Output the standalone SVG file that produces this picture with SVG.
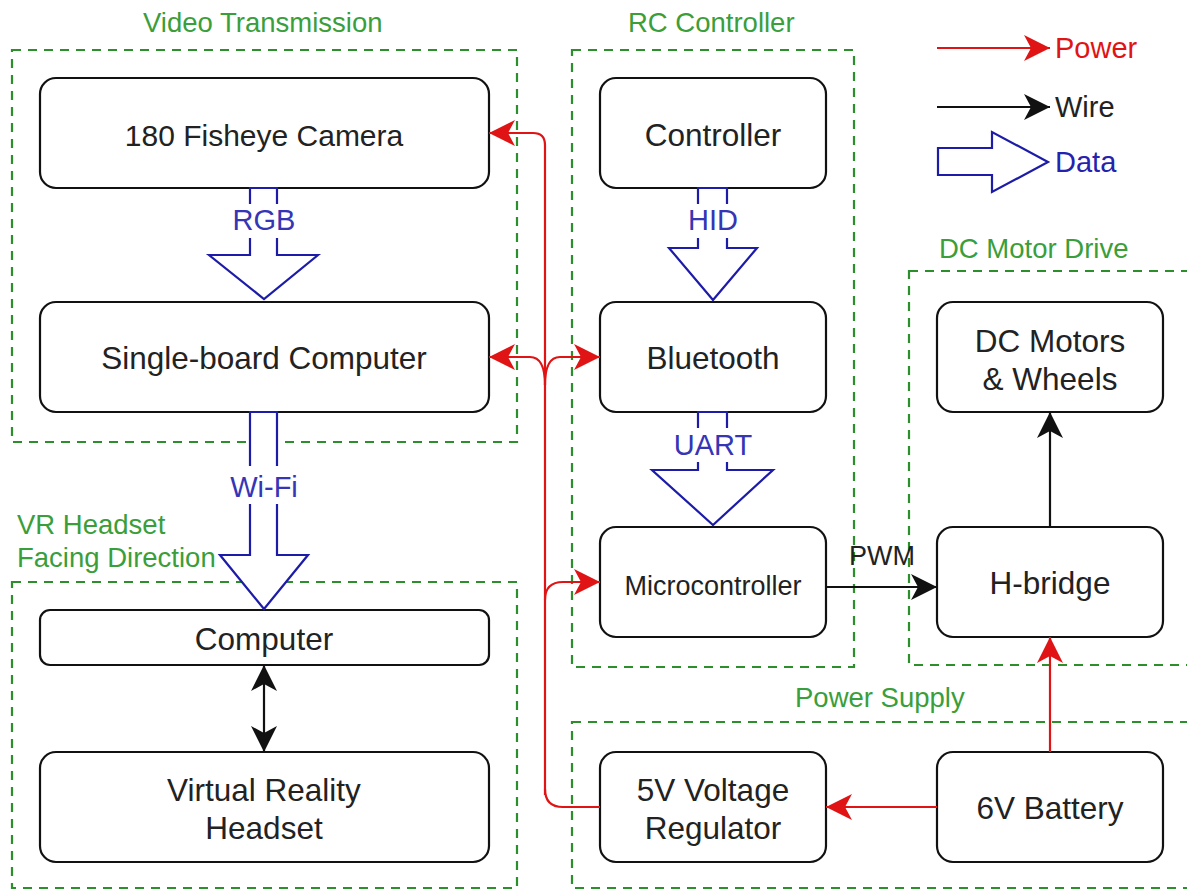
<svg xmlns="http://www.w3.org/2000/svg" width="1187" height="894" viewBox="0 0 1187 894">
  <style>
    .grp { fill: none; stroke: #2b8f2b; stroke-width: 2.2; stroke-dasharray: 9 7; }
    .gtitle { font-family: "Liberation Sans", Arial, sans-serif; font-size: 27.5px; fill: #3a9e3a; }
    .node rect { fill: #ffffff; stroke: #111111; stroke-width: 2.2; }
    .node text { font-family: "Liberation Sans", Arial, sans-serif; font-size: 31.5px; fill: #222222; text-anchor: middle; }
    .data { fill: #ffffff; stroke: #1c1ca8; stroke-width: 2.2; stroke-linejoin: miter; }
    .dlabel { font-family: "Liberation Sans", Arial, sans-serif; font-size: 29px; fill: #3535b5; text-anchor: middle; }
    .power { fill: none; stroke: #e01414; stroke-width: 2.2; }
    .wire { fill: none; stroke: #111111; stroke-width: 2.2; }
    .legend { font-family: "Liberation Sans", Arial, sans-serif; font-size: 29px; }
  </style>
  <defs>
    <marker id="arrRed" markerUnits="userSpaceOnUse" markerWidth="28" markerHeight="28" refX="26" refY="13" orient="auto-start-reverse">
      <path d="M0,0 L26,13 L0,26 L7,13 Z" fill="#e01414"/>
    </marker>
    <marker id="arrBlack" markerUnits="userSpaceOnUse" markerWidth="28" markerHeight="28" refX="26" refY="13" orient="auto-start-reverse">
      <path d="M0,0 L26,13 L0,26 L7,13 Z" fill="#111111"/>
    </marker>
  </defs>

  <rect width="1187" height="894" fill="#ffffff"/>

  <!-- group containers -->
  <g id="groups">
    <rect class="grp" x="12" y="50" width="505" height="392"/>
    <text class="gtitle" x="143" y="32">Video Transmission</text>
    <rect class="grp" x="572" y="50" width="282" height="617"/>
    <text class="gtitle" x="628" y="32">RC Controller</text>
    <rect class="grp" x="909" y="271" width="290" height="394"/>
    <text class="gtitle" x="939" y="258">DC Motor Drive</text>
    <rect class="grp" x="572" y="722" width="627" height="166"/>
    <text class="gtitle" x="795" y="707">Power Supply</text>
    <rect class="grp" x="12" y="582" width="505" height="306"/>
    <text class="gtitle" x="17" y="534">VR Headset</text>
    <text class="gtitle" x="17" y="567">Facing Direction</text>
  </g>

  <!-- nodes -->
  <g id="camera" class="node"><rect x="40" y="78" width="449" height="110" rx="16"/><text x="264" y="146" style="font-size:30px">180 Fisheye Camera</text></g>
  <g id="sbc" class="node"><rect x="40" y="302" width="449" height="110" rx="16"/><text x="264" y="369">Single-board Computer</text></g>
  <g id="computer" class="node"><rect x="40" y="610" width="449" height="55" rx="10"/><text x="264" y="650">Computer</text></g>
  <g id="vr-headset" class="node"><rect x="40" y="752" width="449" height="110" rx="16"/><text x="264" y="801">Virtual Reality</text><text x="264" y="839">Headset</text></g>
  <g id="controller" class="node"><rect x="600" y="78" width="226" height="110" rx="16"/><text x="713" y="146">Controller</text></g>
  <g id="bluetooth" class="node"><rect x="600" y="302" width="226" height="110" rx="16"/><text x="713" y="369">Bluetooth</text></g>
  <g id="microcontroller" class="node"><rect x="600" y="527" width="226" height="110" rx="16"/><text x="713" y="595" style="font-size:27px">Microcontroller</text></g>
  <g id="dc-motors" class="node"><rect x="937" y="302" width="226" height="110" rx="16"/><text x="1050" y="352">DC Motors</text><text x="1050" y="390">&amp; Wheels</text></g>
  <g id="h-bridge" class="node"><rect x="937" y="527" width="226" height="110" rx="16"/><text x="1050" y="594">H-bridge</text></g>
  <g id="regulator" class="node"><rect x="600" y="752" width="226" height="110" rx="16"/><text x="713" y="801">5V Voltage</text><text x="713" y="839">Regulator</text></g>
  <g id="battery" class="node"><rect x="937" y="752" width="226" height="110" rx="16"/><text x="1050" y="819">6V Battery</text></g>

  <!-- connectors -->
  <g id="connectors">
    <!-- data flows (hollow block arrows) -->
    <polygon class="data" points="250,188 277,188 277,255 318,255 264,299 209,255 250,255"/>
    <rect x="236" y="204" width="56" height="34" fill="#ffffff"/>
    <text class="dlabel" x="264" y="230">RGB</text>

    <polygon class="data" points="250,412 277,412 277,555 308,555 264,609 220,555 250,555"/>
    <rect x="224" y="466" width="80" height="38" fill="#ffffff"/>
    <text class="dlabel" x="264" y="497">Wi-Fi</text>

    <polygon class="data" points="698,188 727,188 727,248 757,248 713,300 669,248 698,248"/>
    <rect x="688" y="204" width="50" height="34" fill="#ffffff"/>
    <text class="dlabel" x="713" y="230">HID</text>

    <polygon class="data" points="698,412 727,412 727,470 773,470 713,525 652,470 698,470"/>
    <rect x="674" y="428" width="78" height="34" fill="#ffffff"/>
    <text class="dlabel" x="713" y="455">UART</text>

    <!-- power -->
    <path class="power" d="M545,795 L545,145 Q545,133 533,133 L489,133" marker-end="url(#arrRed)"/>
    <path class="power" d="M545,385 Q545,357 530,357 L489,357" marker-end="url(#arrRed)"/>
    <path class="power" d="M545,385 Q545,357 560,357 L600,357" marker-end="url(#arrRed)"/>
    <path class="power" d="M545,600 Q545,582 563,582 L600,582" marker-end="url(#arrRed)"/>
    <path class="power" d="M600,807 L563,807 Q545,807 545,789"/>
    <path class="power" d="M937,807 L826,807" marker-end="url(#arrRed)"/>
    <path class="power" d="M1050,752 L1050,637" marker-end="url(#arrRed)"/>

    <!-- wires -->
    <path class="wire" d="M1050,527 L1050,412" marker-end="url(#arrBlack)"/>
    <path class="wire" d="M826,587 L937,587" marker-end="url(#arrBlack)"/>
    <text x="882" y="565" text-anchor="middle" style="font-family:'Liberation Sans', Arial, sans-serif; font-size:27px; fill:#222222">PWM</text>
    <path class="wire" d="M264,665 L264,752" marker-start="url(#arrBlack)" marker-end="url(#arrBlack)"/>
  </g>

  <!-- legend -->
  <g id="legend">
    <path class="power" d="M937,48 L1050,48" marker-end="url(#arrRed)"/>
    <text class="legend" x="1055" y="58" fill="#e01414">Power</text>
    <path class="wire" d="M937,107 L1050,107" marker-end="url(#arrBlack)"/>
    <text class="legend" x="1055" y="117" fill="#222222">Wire</text>
    <polygon class="data" points="938,148 992,148 992,132 1048,162 992,192 992,175 938,175"/>
    <text class="legend" x="1055" y="172" fill="#2323b0">Data</text>
  </g>
</svg>
